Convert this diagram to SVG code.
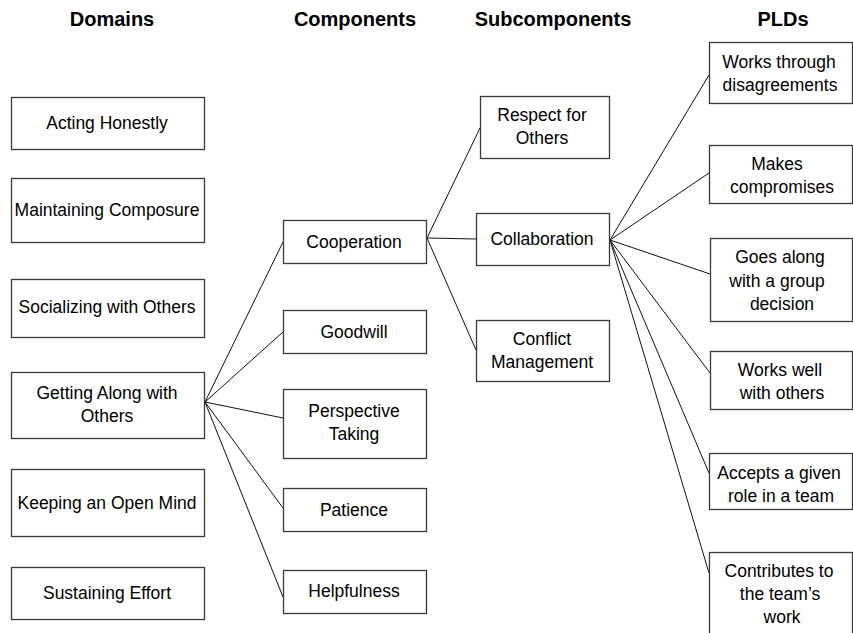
<svg xmlns="http://www.w3.org/2000/svg" width="853" height="633" viewBox="0 0 853 633">
<style>
.box{fill:#fff;stroke:#3a3a3a;stroke-width:1.3}
.t{font-family:"Liberation Sans",Arial,sans-serif;font-size:17.5px;fill:#000;text-anchor:middle}
.h{font-family:"Liberation Sans",Arial,sans-serif;font-size:20px;font-weight:bold;fill:#000;text-anchor:middle}
.c line{stroke:#111;stroke-width:1}
</style>
<rect width="853" height="633" fill="#fff"/>
<g id="headers">
<text class="h" x="112" y="26">Domains</text>
<text class="h" x="355" y="26">Components</text>
<text class="h" x="553" y="26">Subcomponents</text>
<text class="h" x="783" y="26">PLDs</text>
</g>
<g class="c" id="connectors">
<line x1="205" y1="402" x2="283" y2="242"/>
<line x1="205" y1="402" x2="283" y2="332"/>
<line x1="205" y1="402" x2="283" y2="418"/>
<line x1="205" y1="402" x2="283" y2="508"/>
<line x1="205" y1="402" x2="283" y2="597"/>
<line x1="427" y1="238" x2="480" y2="128"/>
<line x1="427" y1="238" x2="476" y2="239"/>
<line x1="427" y1="238" x2="476" y2="350"/>
<line x1="610" y1="240" x2="709" y2="75"/>
<line x1="610" y1="240" x2="709" y2="173"/>
<line x1="610" y1="240" x2="710" y2="274"/>
<line x1="610" y1="240" x2="710" y2="373"/>
<line x1="610" y1="240" x2="709" y2="473"/>
<line x1="610" y1="240" x2="709" y2="573"/>
</g>
<g id="d1"><rect class="box" x="11.5" y="97.5" width="193" height="52"/><text class="t" x="107" y="129">Acting Honestly</text></g>
<g id="d2"><rect class="box" x="11.5" y="178.5" width="193" height="64"/><text class="t" x="107" y="216">Maintaining Composure</text></g>
<g id="d3"><rect class="box" x="11.5" y="279.5" width="193" height="58"/><text class="t" x="107" y="313">Socializing with Others</text></g>
<g id="d4"><rect class="box" x="11.5" y="372.5" width="193" height="66"/><text class="t" x="107" y="399">Getting Along with</text><text class="t" x="107" y="422">Others</text></g>
<g id="d5"><rect class="box" x="11.5" y="469.5" width="193" height="67"/><text class="t" x="107" y="509">Keeping an Open Mind</text></g>
<g id="d6"><rect class="box" x="11.5" y="567.5" width="193" height="52"/><text class="t" x="107" y="599">Sustaining Effort</text></g>
<g id="c1"><rect class="box" x="283.5" y="220.5" width="143" height="43"/><text class="t" x="354" y="248">Cooperation</text></g>
<g id="c2"><rect class="box" x="283.5" y="310.5" width="143" height="43"/><text class="t" x="354" y="338">Goodwill</text></g>
<g id="c3"><rect class="box" x="283.5" y="389.5" width="143" height="69"/><text class="t" x="354" y="417">Perspective</text><text class="t" x="354" y="440">Taking</text></g>
<g id="c4"><rect class="box" x="283.5" y="488.5" width="143" height="43"/><text class="t" x="354" y="516">Patience</text></g>
<g id="c5"><rect class="box" x="283.5" y="570.5" width="143" height="43"/><text class="t" x="354" y="597">Helpfulness</text></g>
<g id="s1"><rect class="box" x="480.5" y="96.5" width="129" height="62"/><text class="t" x="542" y="121">Respect for</text><text class="t" x="542" y="144">Others</text></g>
<g id="s2"><rect class="box" x="476.5" y="213.5" width="133" height="52"/><text class="t" x="542" y="245">Collaboration</text></g>
<g id="s3"><rect class="box" x="476.5" y="320.5" width="133" height="61"/><text class="t" x="542" y="345">Conflict</text><text class="t" x="542" y="368">Management</text></g>
<g id="p1"><rect class="box" x="709.5" y="42.5" width="143" height="61"/><text class="t" x="779" y="68">Works through</text><text class="t" x="780" y="91">disagreements</text></g>
<g id="p2"><rect class="box" x="709.5" y="145.5" width="143" height="58"/><text class="t" x="777" y="170">Makes</text><text class="t" x="782" y="193">compromises</text></g>
<g id="p3"><rect class="box" x="710.5" y="238.5" width="142" height="83"/><text class="t" x="780" y="263">Goes along</text><text class="t" x="777" y="287">with a group</text><text class="t" x="782" y="310">decision</text></g>
<g id="p4"><rect class="box" x="710.5" y="351.5" width="142" height="58"/><text class="t" x="780" y="376">Works well</text><text class="t" x="782" y="399">with others</text></g>
<g id="p5"><rect class="box" x="709.5" y="453.5" width="143" height="56"/><text class="t" x="779" y="479">Accepts a given</text><text class="t" x="781" y="502">role in a team</text></g>
<g id="p6"><rect class="box" x="709.5" y="552.5" width="143" height="100"/><text class="t" x="779" y="577">Contributes to</text><text class="t" x="780" y="600">the team’s</text><text class="t" x="782" y="623">work</text></g>
</svg>
